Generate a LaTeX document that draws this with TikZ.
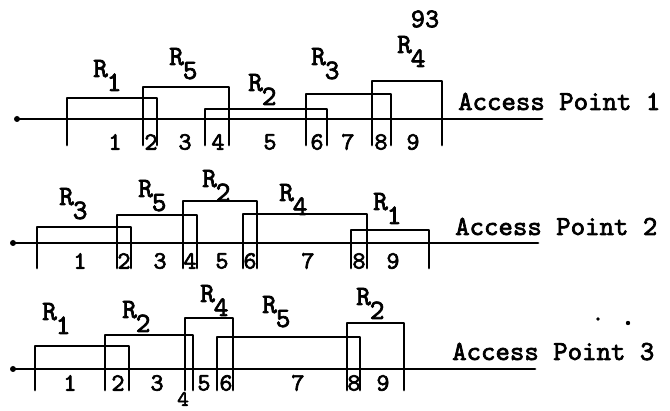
\documentclass[tikz,border=0pt]{standalone}
\usepackage{fontspec}
\newfontfamily\tw{lmmono10-regular.otf}[FakeBold=2.5]
\newcommand\Rsub[1]{R\kern-0.04em\raisebox{-0.5em}{#1}}
\tikzset{
  ln/.style={line width=2.8pt, line cap=round, line join=round},
  rlab/.style={font=\tw\fontsize{28}{28}\selectfont, inner sep=0pt, anchor=base west},
  num/.style={font=\tw\fontsize{25}{25}\selectfont, inner sep=0pt},
  ap/.style={font=\tw\fontsize{27.5}{27.5}\selectfont, inner sep=0pt, anchor=base west},
}
\begin{document}
\begin{tikzpicture}[x=1pt,y=-1pt]
\useasboundingbox[fill=white] (0,0) rectangle (670,411);
% page number
\node[num, font=\tw\fontsize{27}{27}\selectfont] (pg) at (425,19) {93};
% ---------- Row 1 ----------
\coordinate (a1s) at (17,119); \coordinate (a1e) at (542,119);
\draw[ln] (a1s) -- (a1e);
\fill (a1s) circle (3pt);
\foreach \l/\t/\r in {67/98/157, 143/87/229, 205/109/327, 306/94/391, 372/81/442}
  \draw[ln] (\l,145) -- (\l,\t) -- (\r,\t) -- (\r,145);
\node[rlab] (r1a) at (93,77) {\Rsub{1}};
\node[rlab] (r1b) at (169,65) {\Rsub{5}};
\node[rlab] (r1c) at (248,91) {\Rsub{2}};
\node[rlab] (r1d) at (311,65) {\Rsub{3}};
\node[rlab] (r1e) at (397,53) {\Rsub{4}};
\foreach \n/\x in {1/115, 2/151, 3/185, 4/218, 5/270, 6/317, 7/348, 8/381, 9/413}
  \node[num] (n1\n) at (\x,142) {\n};
\node[ap] (ap1) at (458,110) {Access Point 1};
% ---------- Row 2 ----------
\coordinate (a2s) at (13,243); \coordinate (a2e) at (538,243);
\draw[ln] (a2s) -- (a2e);
\fill (a2s) circle (3pt);
\foreach \l/\t/\r in {37/227/131, 117/215/197, 183/201/257, 243/214/367, 351/230/429}
  \draw[ln] (\l,268) -- (\l,\t) -- (\r,\t) -- (\r,268);
\node[rlab] (r2a) at (59,205) {\Rsub{3}};
\node[rlab] (r2b) at (138,197) {\Rsub{5}};
\node[rlab] (r2c) at (202,187) {\Rsub{2}};
\node[rlab] (r2d) at (279,201) {\Rsub{4}};
\node[rlab] (r2e) at (373,210) {\Rsub{1}};
\foreach \n/\x in {1/80, 2/124, 3/160, 4/190, 5/222, 6/250, 7/308, 8/359, 9/393}
  \node[num] (n2\n) at (\x,261) {\n};
\node[ap] (ap2) at (455,235) {Access Point 2};
% ---------- Row 3 ----------
\coordinate (a3s) at (13,369); \coordinate (a3e) at (535,369);
\draw[ln] (a3s) -- (a3e);
\fill (a3s) circle (3pt);
\foreach \l/\t/\r in {35/346/129, 105/335/193, 185/318/233, 217/337/360, 347/323/404}
  \draw[ln] (\l,390) -- (\l,\t) -- (\r,\t) -- (\r,390);
\node[rlab] (r3a) at (42,320) {\Rsub{1}};
\node[rlab] (r3b) at (122,318) {\Rsub{2}};
\node[rlab] (r3c) at (200,302) {\Rsub{4}};
\node[rlab] (r3d) at (262,313) {\Rsub{5}};
\node[rlab] (r3e) at (356,305) {\Rsub{2}};
\foreach \n/\x in {1/70, 2/118, 3/157, 5/204, 6/226, 7/298, 8/354, 9/383}
  \node[num] (n3\n) at (\x,383) {\n};
\node[num, font=\tw\fontsize{22}{22}\selectfont] (n34) at (183,399) {4};
\node[ap] (ap3) at (452,360) {Access Point 3};
\fill (598,319) circle (1.8pt);
\fill (628,323) circle (2.2pt);
\end{tikzpicture}
\end{document}
